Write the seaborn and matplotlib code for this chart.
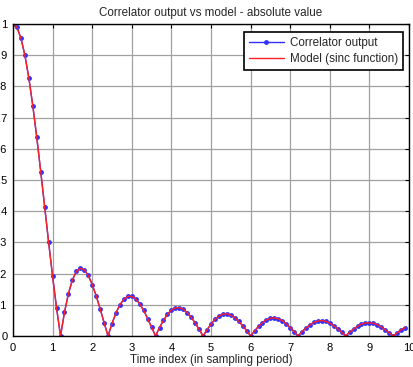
import matplotlib

matplotlib.use("Agg")
import matplotlib.pyplot as plt
import pandas as pd
import seaborn as sns

# sample times (in sampling periods)
time_index = [
    0.0, 0.1, 0.2, 0.3, 0.4, 0.5, 0.6, 0.7, 0.8, 0.9,
    1.0, 1.1, 1.2, 1.3, 1.4, 1.5, 1.6, 1.7, 1.8, 1.9,
    2.0, 2.1, 2.2, 2.3, 2.4, 2.5, 2.6, 2.7, 2.8, 2.9,
    3.0, 3.1, 3.2, 3.3, 3.4, 3.5, 3.6, 3.7, 3.8, 3.9,
    4.0, 4.1, 4.2, 4.3, 4.4, 4.5, 4.6, 4.7, 4.8, 4.9,
    5.0, 5.1, 5.2, 5.3, 5.4, 5.5, 5.6, 5.7, 5.8, 5.9,
    6.0, 6.1, 6.2, 6.3, 6.4, 6.5, 6.6, 6.7, 6.8, 6.9,
    7.0, 7.1, 7.2, 7.3, 7.4, 7.5, 7.6, 7.7, 7.8, 7.9,
    8.0, 8.1, 8.2, 8.3, 8.4, 8.5, 8.6, 8.7, 8.8, 8.9,
    9.0, 9.1, 9.2, 9.3, 9.4, 9.5, 9.6, 9.7, 9.8, 9.9,
]

# absolute value
correlator_output = [
    1.000, 0.989, 0.955, 0.900, 0.827, 0.738, 0.637, 0.527, 0.414, 0.300,
    0.191, 0.090, 0.000, 0.076, 0.136, 0.180, 0.207, 0.217, 0.212, 0.194,
    0.165, 0.129, 0.087, 0.043, 0.000, 0.040, 0.074, 0.100, 0.118, 0.127,
    0.127, 0.119, 0.103, 0.082, 0.056, 0.028, 0.000, 0.027, 0.050, 0.069,
    0.083, 0.090, 0.091, 0.086, 0.075, 0.060, 0.042, 0.021, 0.000, 0.020,
    0.038, 0.053, 0.064, 0.070, 0.071, 0.067, 0.059, 0.047, 0.033, 0.017,
    0.000, 0.016, 0.031, 0.043, 0.052, 0.057, 0.058, 0.055, 0.049, 0.039,
    0.027, 0.014, 0.000, 0.014, 0.026, 0.036, 0.044, 0.048, 0.049, 0.047,
    0.041, 0.033, 0.023, 0.012, 0.000, 0.012, 0.022, 0.031, 0.038, 0.042,
    0.042, 0.041, 0.036, 0.029, 0.020, 0.010, 0.000, 0.010, 0.020, 0.027,
]
model_sinc = list(correlator_output)

x_ticks = [0, 1, 2, 3, 4, 5, 6, 7, 8, 9, 10]
y_ticks = [0, 0.1, 0.2, 0.3, 0.4, 0.5, 0.6, 0.7, 0.8, 0.9, 1]
y_tick_labels = ["0", "0.1", "0.2", "0.3", "0.4", "0.5", "0.6", "0.7", "0.8", "0.9", "1"]

df = pd.DataFrame(
    {"t": time_index, "corr": correlator_output, "model": model_sinc}
)

sns.set_style("white")
plt.rcParams["font.family"] = ["Liberation Sans", "DejaVu Sans"]

fig = plt.figure(figsize=(4.13, 3.67), dpi=100)
ax = fig.add_axes([13 / 413, 1 - 336 / 367, 396 / 413, 312 / 367])

sns.lineplot(
    data=df, x="t", y="corr", ax=ax, color="#3030ff", linewidth=1.0,
    marker="o", markersize=3.5, markeredgewidth=0, label="Correlator output",
)
sns.lineplot(
    data=df, x="t", y="model", ax=ax, color="#ff2020", linewidth=1.0,
    label="Model (sinc function)",
)

ax.set_xlim(0, 10)
ax.set_ylim(0, 1)
ax.set_xticks(x_ticks)
ax.set_yticks(y_ticks)
ax.set_yticklabels(y_tick_labels)
ax.tick_params(
    direction="in", length=3, width=0.8, top=True, right=True,
    labelsize=8, pad=4, colors="black",
)
ax.tick_params(axis="x", pad=5)
ax.grid(True, color="#a0a0a0", linewidth=0.9, linestyle="-")

for side in ax.spines.values():
    side.set_visible(True)
    side.set_color("black")
    side.set_linewidth(1.0)

ax.set_title("Correlator output vs model - absolute value", fontsize=8.4, pad=6)
ax.set_xlabel("Time index (in sampling period)", fontsize=8.4, labelpad=1)
ax.set_ylabel("")

leg = ax.legend(
    loc="upper right", bbox_to_anchor=(0.985, 0.975), fontsize=8.4,
    fancybox=False, framealpha=1, edgecolor="black", borderaxespad=0,
    handlelength=3.0, handletextpad=0.5, borderpad=0.45, labelspacing=0.35,
)
leg.get_frame().set_linewidth(1.2)

plt.savefig("out.png", dpi=100)
